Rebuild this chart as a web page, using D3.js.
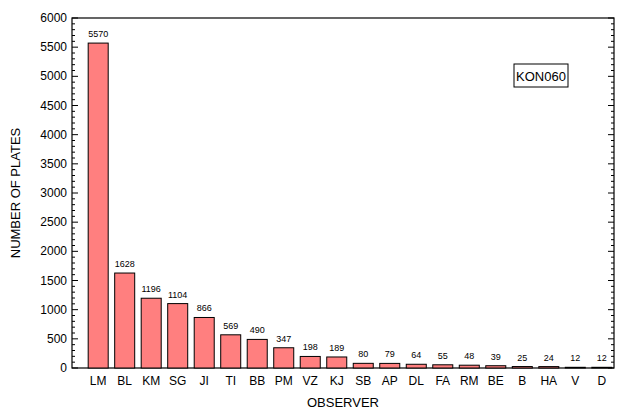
<!DOCTYPE html>
<html><head><meta charset="utf-8">
<script src="https://cdn.jsdelivr.net/npm/d3@7"></script>
<style>body{margin:0;background:#fff}text{font-family:"Liberation Sans",Arial,sans-serif}</style>
</head><body><svg id="c" width="625" height="414"></svg>
<script>
const observers = ["LM","BL","KM","SG","JI","TI","BB","PM","VZ","KJ","SB","AP","DL","FA","RM","BE","B","HA","V","D"];
const plates = [5570,1628,1196,1104,866,569,490,347,198,189,80,79,64,55,48,39,25,24,12,12];
const yTicks = [0,500,1000,1500,2000,2500,3000,3500,4000,4500,5000,5500,6000];

const svg = d3.select("#c");
const L = 72, R = 614, T = 18, B = 368;
const x = d3.scaleBand().domain(observers).range([85, 615]).paddingInner(0.245).paddingOuter(0.12);
const y = d3.scaleLinear().domain([0, 6000]).range([B, T]);

svg.append("rect").attr("x", L).attr("y", T).attr("width", R - L).attr("height", B - T)
  .attr("fill", "none").attr("stroke", "#000").attr("stroke-width", 1.2);

const minor = d3.range(0, 6001, 100);
svg.selectAll(".ml").data(minor).join("line")
  .attr("x1", L).attr("x2", d => L + (d % 500 ? 3 : 6)).attr("y1", d => y(d)).attr("y2", d => y(d)).attr("stroke", "#000");
svg.selectAll(".mr").data(minor).join("line")
  .attr("x1", R).attr("x2", d => R - (d % 500 ? 3 : 6)).attr("y1", d => y(d)).attr("y2", d => y(d)).attr("stroke", "#000");

svg.selectAll(".yl").data(yTicks).join("text")
  .attr("x", L - 5).attr("y", d => y(d) + 4).attr("text-anchor", "end").attr("font-size", 12).text(d => d);

svg.selectAll(".bar").data(plates).join("rect")
  .attr("x", (d, i) => x(observers[i])).attr("width", x.bandwidth())
  .attr("y", d => y(d)).attr("height", d => B - y(d))
  .attr("fill", "#ff7f7f").attr("stroke", "#000").attr("stroke-width", 1);

svg.selectAll(".vl").data(plates).join("text")
  .attr("x", (d, i) => x(observers[i]) + x.bandwidth() / 2).attr("y", d => y(d) - 6)
  .attr("text-anchor", "middle").attr("font-size", 9).text(d => d);

svg.selectAll(".xl").data(observers).join("text")
  .attr("x", d => x(d) + x.bandwidth() / 2).attr("y", B + 17)
  .attr("text-anchor", "middle").attr("font-size", 12).text(d => d);

svg.append("text").attr("x", (L + R) / 2).attr("y", 407).attr("text-anchor", "middle").attr("font-size", 13).text("OBSERVER");
svg.append("text").attr("transform", `translate(20,${(T + B) / 2}) rotate(-90)`).attr("text-anchor", "middle")
  .attr("font-size", 13).text("NUMBER OF PLATES");

svg.append("rect").attr("x", 514).attr("y", 64).attr("width", 54).attr("height", 23).attr("fill", "#fff").attr("stroke", "#000");
svg.append("text").attr("x", 541).attr("y", 81).attr("text-anchor", "middle").attr("font-size", 13).text("KON060");
</script></body></html>
